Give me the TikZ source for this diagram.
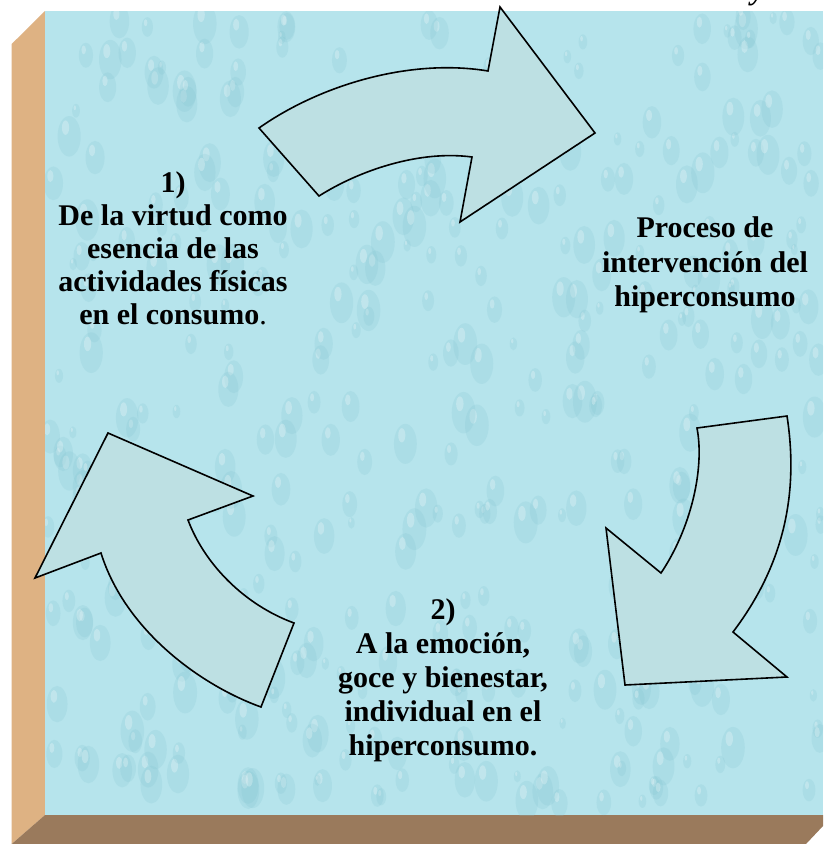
\documentclass[tikz,border=0pt]{standalone}
\usepackage{fontspec}
\setmainfont{Liberation Serif}
\definecolor{facebg}{HTML}{B6E4EC}
\definecolor{dropdark}{HTML}{86C6D3}
\definecolor{arrowfill}{HTML}{BDE0E3}
\definecolor{tanside}{HTML}{DEB283}
\definecolor{brownside}{HTML}{9A7A5C}
\begin{document}
\begin{tikzpicture}[x=1pt,y=-1pt,
  arrowshape/.style={fill=arrowfill, draw=black, line width=1.6pt, line join=miter},
  lbl/.style={font=\fontsize{30}{33}\selectfont\bfseries, inner sep=0pt, anchor=base}]
\useasboundingbox (0,0) rectangle (823,844);
\clip (0,0) rectangle (823,844);
\fill[white] (0,0) rectangle (823,844);
% box sides
\fill[tanside] (11.7,44) -- (45,11) -- (45,815) -- (11.7,844) -- cycle;
\fill[brownside] (11.7,844) -- (45,815) -- (823,815) -- (823,826) -- (806,844) -- cycle;
% front face
\fill[facebg] (45,11) rectangle (823,815);
\begin{scope}
  \clip (45,11) rectangle (823,815);
  \pgfmathsetseed{12}
  \foreach \i in {1,...,420}{
    \pgfmathsetmacro\dx{45+778*rnd}
    \pgfmathsetmacro\dy{11+804*rnd}
    \pgfmathsetmacro\dr{4+11*rnd}
    \fill[dropdark, opacity=0.22] (\dx,\dy) ellipse [x radius=0.8*\dr, y radius=1.4*\dr];
    \fill[white, opacity=0.25] (\dx-0.25*\dr,\dy-0.6*\dr) ellipse [x radius=0.25*\dr, y radius=0.5*\dr];
  }
\end{scope}
% cut-off text at the top
\node[font=\fontsize{30}{33}\selectfont\bfseries\itshape, inner sep=0pt, anchor=base] (ytop) at (758,-1) {y};
% top arrow
\path[arrowshape] (259,128) -- (319,196)
  .. controls (360,170) and (420,150) .. (472,157)
  -- (460,222) -- (595,133) -- (500,7) -- (488,71)
  .. controls (410,58) and (320,85) .. (259,128) -- cycle;
% right arrow
\path[arrowshape] (697,428) -- (787,416)
  .. controls (800,500) and (780,570) .. (733,632)
  -- (787,677) -- (625,685) -- (606,528) -- (661,573)
  .. controls (690,530) and (705,470) .. (697,428) -- cycle;
% left arrow
\path[arrowshape] (108,433) -- (253,496) -- (188,520)
  .. controls (205,565) and (245,605) .. (294,623)
  -- (261,707)
  .. controls (200,685) and (125,630) .. (101,553)
  -- (35,578) -- cycle;
% texts
\node[lbl] (a1) at (173,192) {1)};
\node[lbl] (a2) at (173,225) {De la virtud como};
\node[lbl] (a3) at (173,258) {esencia de las};
\node[lbl] (a4) at (173,291) {actividades físicas};
\node[lbl] (a5) at (173,324) {en el consumo\textmd{.}};
\node[lbl] (b1) at (705,237) {Proceso de};
\node[lbl] (b2) at (705,272) {intervención del};
\node[lbl] (b3) at (705,306) {hiperconsumo};
\node[lbl] (c1) at (443,619) {2)};
\node[lbl] (c2) at (443,653) {A la emoción,};
\node[lbl] (c3) at (443,687) {goce y bienestar,};
\node[lbl] (c4) at (443,721) {individual en el};
\node[lbl] (c5) at (443,755) {hiperconsumo.};
\end{tikzpicture}
\end{document}
